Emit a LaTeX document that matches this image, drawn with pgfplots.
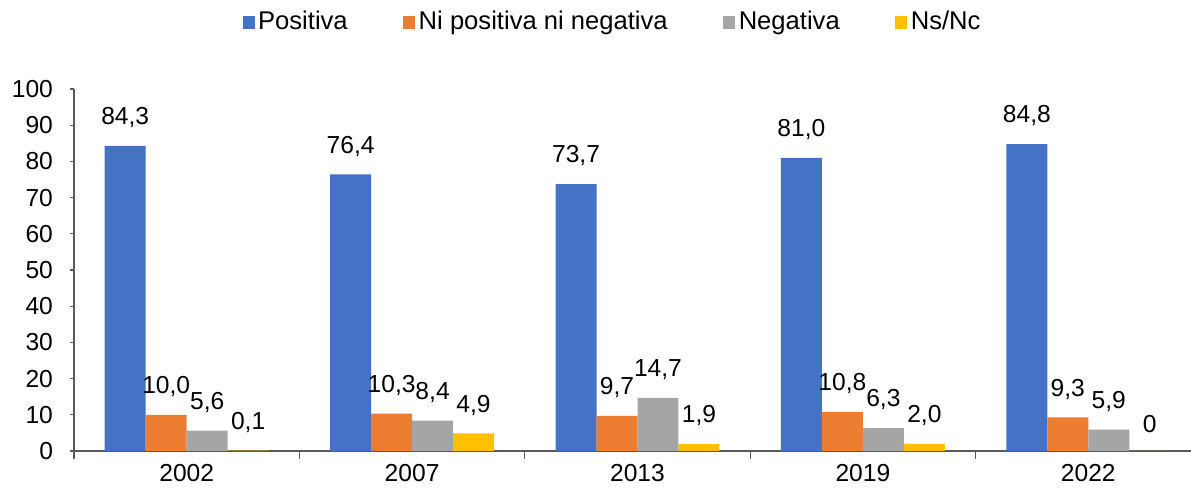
\documentclass[border=0pt]{standalone}
\usepackage{pgfplots}
\pgfplotsset{compat=1.18}
\usepackage{fontspec}
\setmainfont{Liberation Sans}
\definecolor{cPos}{HTML}{4472C4}
\definecolor{cNi}{HTML}{ED7D31}
\definecolor{cNeg}{HTML}{A5A5A5}
\definecolor{cNs}{HTML}{FFC000}
\definecolor{axcol}{HTML}{595959}
\begin{document}
\begin{tikzpicture}
\path[use as bounding box] (-37pt,-20.5pt) rectangle (558.5pt,225.5pt);
\begin{axis}[
  at={(0,0)}, anchor=south west,
  scale only axis, width=563.5pt, height=181pt,
  xmin=-0.5, xmax=4.5, ymin=0, ymax=100,
  clip=false,
  axis x line*=bottom, axis y line*=left,
  axis line style={draw=axcol, line width=0.6pt},
  xtick={0,1,2,3,4},
  xticklabels={2002,2007,2013,2019,2022},
  xtick style={draw=none},
  xticklabel style={yshift=-1.3pt},
  ytick={0,10,...,100},
  ytick style={draw=axcol, line width=0.6pt},
  tick align=outside,
  major tick length=2pt,
  font=\fontsize{12.3}{15}\selectfont,
  /pgf/number format/assume math mode=true,
  yticklabel style={xshift=-5pt},
  bar width=0.1818,
  point meta=explicit symbolic,
  every node near coord/.append style={font=\fontsize{12.3}{15}\selectfont, anchor=south, yshift=5.5pt, text=black},
  legend columns=4,
  legend style={draw=none, fill=none, at={(0.478,1.185)}, anchor=center,
    font=\fontsize{12.8}{15}\selectfont,
    nodes={inner sep=1.2pt},
    /tikz/every even column/.append style={column sep=26.5pt},
    /tikz/every odd column/.append style={column sep=0.6pt}},
  legend image code/.code={\fill[#1] (0pt,-3.25pt) rectangle (6pt,3.25pt);},
]
\addplot[ybar, bar shift=0pt, fill=cPos, draw=none, nodes near coords] table[meta=lab] {
x y lab
-0.2727 84.3 84,3
0.7273 76.4 76,4
1.7273 73.7 73,7
2.7273 81.0 81,0
3.7273 84.8 84,8
};
\addlegendentry{Positiva}
\addplot[ybar, bar shift=0pt, fill=cNi, draw=none, nodes near coords] table[meta=lab] {
x y lab
-0.0909 10.0 10,0
0.9091 10.3 10,3
1.9091 9.7 9,7
2.9091 10.8 10,8
3.9091 9.3 9,3
};
\addlegendentry{Ni positiva ni negativa}
\addplot[ybar, bar shift=0pt, fill=cNeg, draw=none, nodes near coords] table[meta=lab] {
x y lab
0.0909 5.6 5,6
1.0909 8.4 8,4
2.0909 14.7 14,7
3.0909 6.3 6,3
4.0909 5.9 5,9
};
\addlegendentry{Negativa}
\addplot[ybar, bar shift=0pt, fill=cNs, draw=none, nodes near coords] table[meta=lab] {
x y lab
0.2727 0.1 0,1
1.2727 4.9 4,9
2.2727 1.9 1,9
3.2727 2.0 2,0
4.2727 0 0
};
\addlegendentry{Ns/Nc}
% category boundary tick marks below the x axis
\addplot[ycomb, draw=axcol, line width=0.6pt, mark=none, forget plot, point meta=none] table {
x y
-0.5 -2.2
0.5 -2.2
1.5 -2.2
2.5 -2.2
3.5 -2.2
4.5 -2.2
};
% small tick marks left of the y axis
\addplot[only marks, mark=-, mark size=1pt, mark options={draw=axcol, line width=0.6pt, xshift=-1pt}, forget plot, point meta=none] table {
x y
-0.5 0
-0.5 10
-0.5 20
-0.5 30
-0.5 40
-0.5 50
-0.5 60
-0.5 70
-0.5 80
-0.5 90
-0.5 100
};
\end{axis}
\end{tikzpicture}
\end{document}
